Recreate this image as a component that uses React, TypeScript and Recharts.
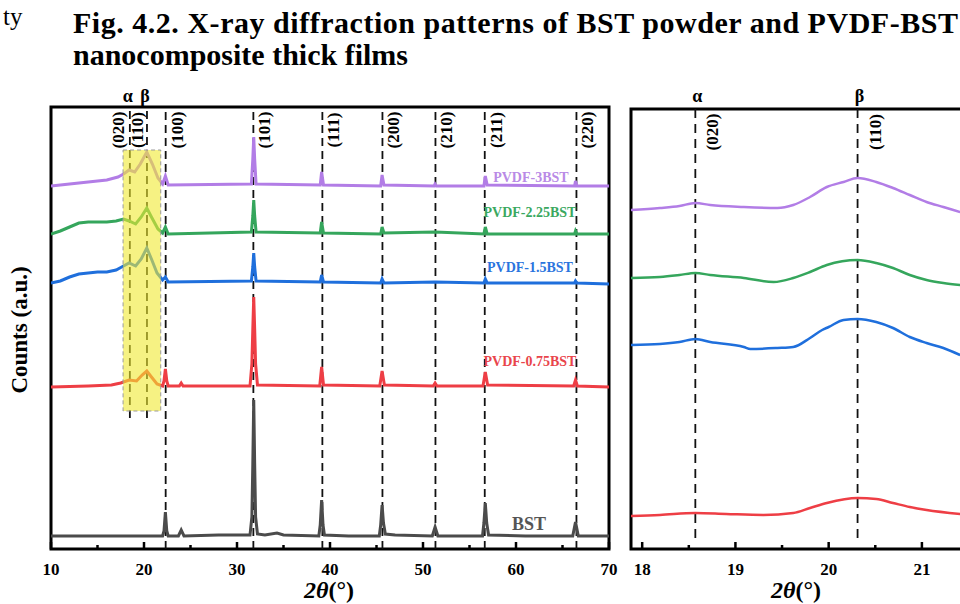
import React from 'react';
import {
  LineChart, Line, XAxis, YAxis, ReferenceLine, ReferenceArea, ReferenceDot,
} from 'recharts';

type Pt = [number, number];

const FONT = '"Liberation Serif", "Times New Roman", serif';

// full scan, 2θ 10–70 deg, counts in a.u. (stacked offsets as plotted)
const bst: Pt[] = [
  [10, 13], [14, 13], [18, 13], [21, 13], [22.0, 13], [22.15, 18], [22.3, 37], [22.45, 18], [22.6, 13],
  [23.7, 13], [24.0, 19], [24.3, 13], [28, 14], [31.4, 14], [31.6, 32], [31.7, 85], [31.8, 149],
  [31.9, 85], [32.0, 32], [32.2, 15], [33, 14], [34.3, 16], [35, 14], [38.8, 13], [38.95, 24],
  [39.1, 49], [39.25, 24], [39.4, 14], [42, 13], [45.3, 13], [45.45, 24], [45.6, 44], [45.75, 26],
  [45.95, 15], [47, 14], [51.0, 13], [51.3, 22], [51.6, 13], [56.4, 13], [56.55, 26], [56.7, 46],
  [56.85, 26], [57.05, 14], [61, 13], [66.1, 13], [66.4, 27], [66.7, 13], [70, 13],
];
const pvdf075: Pt[] = [
  [10, 162], [14, 163], [16.5, 164], [17.5, 166], [18.4, 169], [19.2, 168], [19.8, 174], [20.3, 178],
  [20.8, 172], [21.4, 165], [22.0, 163], [22.15, 168], [22.3, 180], [22.45, 168], [22.6, 163],
  [23.8, 163], [24.0, 166], [24.2, 163], [31.4, 163], [31.6, 185], [31.7, 220], [31.8, 252],
  [31.9, 220], [32.0, 185], [32.2, 164], [38.9, 163], [39.1, 182], [39.3, 164], [45.35, 163],
  [45.6, 178], [45.85, 164], [51.1, 163], [51.3, 166], [51.5, 163], [56.45, 163], [56.7, 177],
  [56.95, 164], [66.2, 163], [66.4, 169], [66.6, 163], [70, 162],
];
const pvdf15: Pt[] = [
  [10, 266], [11, 268], [12, 272], [13, 275], [14, 276], [15, 277], [16, 277], [17, 279], [17.6, 282],
  [18.4, 286], [19.1, 283], [19.7, 290], [20.3, 301], [20.8, 290], [21.4, 276], [22.0, 269],
  [22.3, 272], [22.6, 267], [31.55, 268], [31.7, 282], [31.8, 296], [31.9, 282], [32.05, 268],
  [38.95, 267], [39.1, 274], [39.3, 267], [45.45, 266], [45.6, 270], [45.8, 266], [51.3, 267],
  [56.55, 266], [56.7, 270], [56.9, 266], [66.3, 266], [66.4, 268], [66.55, 266], [70, 265],
];
const pvdf225: Pt[] = [
  [10, 315], [11, 318], [12, 322], [13, 326], [14, 327], [16, 327], [17, 328], [17.8, 330], [18.4, 328],
  [19.1, 325], [19.7, 332], [20.3, 341], [20.8, 332], [21.5, 320], [22.0, 316], [22.3, 322],
  [22.6, 315], [31.55, 317], [31.7, 333], [31.8, 349], [31.9, 333], [32.05, 317], [38.95, 316],
  [39.1, 327], [39.3, 316], [45.45, 315], [45.6, 322], [45.8, 316], [51.3, 317], [56.55, 315],
  [56.7, 322], [56.9, 315], [66.3, 315], [66.4, 318], [66.55, 315], [70, 315],
];
const pvdf3: Pt[] = [
  [10, 363], [12, 365], [14, 367], [16, 369], [17.2, 372], [17.8, 375], [18.4, 379], [19.0, 377],
  [19.6, 385], [20.3, 397], [20.9, 385], [21.5, 371], [22.0, 365], [22.3, 373], [22.6, 364],
  [31.55, 365], [31.7, 390], [31.8, 412], [31.9, 390], [32.05, 365], [38.95, 364], [39.1, 377],
  [39.3, 364], [45.45, 363], [45.6, 374], [45.8, 364], [51.2, 363], [51.3, 365], [51.45, 363],
  [56.55, 363], [56.7, 373], [56.9, 364], [66.3, 363], [66.4, 368], [66.55, 363], [70, 363],
];

// zoom on the PVDF α/β region
const zoom3: Pt[] = [
  [17.88, 339], [18.19, 341], [18.4, 343], [18.57, 346], [18.73, 344], [19.09, 342], [19.45, 341],
  [19.62, 344], [19.8, 352], [19.98, 362], [20.16, 367], [20.31, 371], [20.51, 367], [20.69, 361],
  [20.87, 354], [21.05, 347], [21.23, 342], [21.41, 337],
];
const zoom225: Pt[] = [
  [17.88, 271], [18.19, 272], [18.4, 274], [18.57, 276], [18.73, 274], [19.09, 271], [19.41, 267],
  [19.62, 271], [19.8, 277], [19.98, 284], [20.31, 289], [20.51, 286], [20.69, 281], [20.87, 274],
  [21.05, 269], [21.23, 266], [21.41, 264],
];
const zoom15: Pt[] = [
  [17.88, 204], [18.19, 205], [18.4, 207], [18.57, 210], [18.73, 207], [19.09, 202], [19.16, 200],
  [19.45, 201], [19.62, 202], [19.8, 211], [19.93, 219], [20.0, 222], [20.16, 229], [20.31, 230],
  [20.51, 227], [20.69, 221], [20.87, 212], [21.05, 206], [21.23, 201], [21.41, 194],
];
const zoom075: Pt[] = [
  [17.88, 33], [18.19, 34], [18.57, 36], [18.9, 35], [19.3, 34], [19.62, 36], [19.8, 41], [19.98, 46],
  [20.31, 51], [20.51, 50], [20.69, 46], [20.87, 42], [21.05, 39], [21.41, 35],
];

const fullTicks = [10, 15, 20, 25, 30, 35, 40, 45, 50, 55, 60, 65, 70];
const fullMajor = [10, 20, 30, 40, 50, 60, 70];
const zoomTicks = [18, 18.5, 19, 19.5, 20, 20.5, 21, 21.5];
const zoomMajor = [18, 19, 20, 21];

const peaks = [18.48, 20.32, 22.33, 31.76, 39.18, 45.64, 51.34, 56.64, 66.5];
const hkl = ['(020)', '(110)', '(100)', '(101)', '(111)', '(200)', '(210)', '(211)', '(220)'];
const zoomPeaks = [18.57, 20.31];
const zoomHkl = ['(020)', '(110)'];
const phases = ['α', 'β'];

const series = [
  { key: 'bst', name: 'BST', pts: bst, color: '#4b4b4b', label: '#555555', lx: 61.4, lv: 19, fs: 18 },
  { key: 'p075', name: 'PVDF-0.75BST', pts: pvdf075, color: '#ee3e45', label: '#e9454b', lx: 61.5, lv: 183, fs: 14 },
  { key: 'p15', name: 'PVDF-1.5BST', pts: pvdf15, color: '#1f6fdc', label: '#2a74de', lx: 61.5, lv: 277, fs: 14 },
  { key: 'p225', name: 'PVDF-2.25BST', pts: pvdf225, color: '#35a65c', label: '#3aa860', lx: 61.5, lv: 332, fs: 14 },
  { key: 'p3', name: 'PVDF-3BST', pts: pvdf3, color: '#b27de6', label: '#b98ae6', lx: 61.6, lv: 367, fs: 14 },
];
const zoomSeries = [
  { key: 'z075', pts: zoom075, color: '#ee3e45' },
  { key: 'z15', pts: zoom15, color: '#1f6fdc' },
  { key: 'z225', pts: zoom225, color: '#35a65c' },
  { key: 'z3', pts: zoom3, color: '#b27de6' },
];

const toRows = (pts: Pt[]) => pts.map(([x, v]) => ({ x, v }));

const makeTick = (majors: number[]) => (props: any) => {
  const { x, y, payload } = props;
  const major = majors.includes(payload.value);
  return (
    <g>
      <line x1={x} x2={x} y1={y} y2={y - (major ? 7 : 4)} stroke="#000" strokeWidth={2.5} />
      {major && (
        <text x={x} y={y + 26} textAnchor="middle" fontFamily={FONT} fontWeight="bold" fontSize={17} fill="#000">
          {payload.value}
        </text>
      )}
    </g>
  );
};

const center = (p: any) => ({
  cx: p.viewBox.x + (p.viewBox.width || 0) / 2,
  cy: p.viewBox.y + (p.viewBox.height || 0) / 2,
});

const vertLabel = (text: string, dx: number) => (p: any) => {
  const { cx, cy } = center(p);
  const bx = cx + dx + 6;
  return (
    <text transform={`rotate(-90 ${bx} ${cy})`} x={bx} y={cy} textAnchor="middle"
      fontFamily={FONT} fontWeight="bold" fontSize={17} fill="#000">{text}</text>
  );
};

const plainLabel = (text: string, color: string, size: number, dx = 0) => (p: any) => {
  const { cx, cy } = center(p);
  return (
    <text x={cx + dx} y={cy} textAnchor="middle" fontFamily={FONT} fontWeight="bold" fontSize={size} fill={color}>
      {text}
    </text>
  );
};

const hklDx = [-12, -10, 11, 11, 11, 11, 11, 11, 11];

function FullPattern() {
  return (
    <LineChart width={625} height={604} margin={{ top: 107, right: 16, bottom: 25, left: 51 }}>
      <XAxis type="number" dataKey="x" domain={[10, 70]} allowDataOverflow ticks={fullTicks} interval={0}
        axisLine={false} tickLine={false} tickSize={0} tickMargin={0} height={30} tick={makeTick(fullMajor)} />
      <YAxis type="number" dataKey="v" domain={[0, 442]} allowDataOverflow hide />
      {peaks.map((p, i) => (
        <ReferenceLine key={`l${i}`} segment={[{ x: p, y: i < 2 ? 131 : 0 }, { x: p, y: 442 }]}
          stroke="#111" strokeWidth={1.8} strokeDasharray="8 5" />
      ))}
      {series.map((s) => (
        <Line key={s.key} data={toRows(s.pts)} dataKey="v" type="linear" stroke={s.color} strokeWidth={3}
          dot={false} activeDot={false} isAnimationActive={false} />
      ))}
      <ReferenceArea x1={17.75} x2={21.8} y1={138} y2={399} fill="#f0ea30" fillOpacity={0.6}
        stroke="#9a9a9a" strokeDasharray="4 3" strokeWidth={1} zIndex={600} />
      {series.map((s) => (
        <ReferenceDot key={`n${s.key}`} x={s.lx} y={s.lv} r={0} ifOverflow="visible"
          label={plainLabel(s.name, s.label, s.fs)} />
      ))}
      {peaks.map((p, i) => (
        <ReferenceDot key={`h${i}`} x={p} y={419} r={0} ifOverflow="visible" label={vertLabel(hkl[i], hklDx[i])} />
      ))}
      {phases.map((t, i) => (
        <ReferenceDot key={`ph${i}`} x={peaks[i]} y={447} r={0} ifOverflow="visible"
          label={plainLabel(t, '#000', 18, -2)} />
      ))}
      <ReferenceArea x1={10} x2={70} y1={0} y2={442} fill="none" stroke="#000" strokeWidth={3} ifOverflow="visible" />
    </LineChart>
  );
}

function ZoomPattern() {
  return (
    <LineChart width={380} height={604} margin={{ top: 109, right: 18, bottom: 25, left: 31 }}>
      <XAxis type="number" dataKey="x" domain={[17.88, 21.43]} allowDataOverflow ticks={zoomTicks} interval={0}
        axisLine={false} tickLine={false} tickSize={0} tickMargin={0} height={30} tick={makeTick(zoomMajor)} />
      <YAxis type="number" dataKey="v" domain={[0, 440]} allowDataOverflow hide />
      {zoomPeaks.map((p, i) => (
        <ReferenceLine key={`zl${i}`} segment={[{ x: p, y: 11 }, { x: p, y: 440 }]}
          stroke="#111" strokeWidth={1.8} strokeDasharray="9 6" />
      ))}
      {zoomSeries.map((s) => (
        <Line key={s.key} data={toRows(s.pts)} dataKey="v" type="monotone" stroke={s.color} strokeWidth={2.5}
          dot={false} activeDot={false} isAnimationActive={false} />
      ))}
      {zoomPeaks.map((p, i) => (
        <ReferenceDot key={`zh${i}`} x={p} y={417} r={0} ifOverflow="visible" label={vertLabel(zoomHkl[i], 17)} />
      ))}
      {phases.map((t, i) => (
        <ReferenceDot key={`zp${i}`} x={zoomPeaks[i]} y={447} r={0} ifOverflow="visible"
          label={plainLabel(t, '#000', 18, 2)} />
      ))}
      <ReferenceArea x1={17.88} x2={21.43} y1={0} y2={440} fill="none" stroke="#000" strokeWidth={3} ifOverflow="visible" />
    </LineChart>
  );
}

function AxisTitle({ x }: { x: number }) {
  return (
    <text x={x} y={598} textAnchor="middle" fontFamily={FONT} fontWeight="bold" fontSize={24} fill="#000">
      <tspan fontStyle="italic">2θ</tspan>
      <tspan>(°)</tspan>
    </text>
  );
}

export default function App() {
  return (
    <div style={{ position: 'absolute', left: 0, top: 0, width: 960, height: 604, overflow: 'hidden', background: '#fff' }}>
      <div style={{ position: 'absolute', left: 0, top: 0 }}>
        <FullPattern />
      </div>
      <div style={{ position: 'absolute', left: 600, top: 0 }}>
        <ZoomPattern />
      </div>
      <svg width={960} height={604} style={{ position: 'absolute', left: 0, top: 0, pointerEvents: 'none' }}>
        <text x={3} y={25} fontFamily={FONT} fontSize={25} fill="#000">ty</text>
        <text x={73} y={33} fontFamily={FONT} fontWeight="bold" fontSize={30} fill="#000"
          textLength={885} lengthAdjust="spacing">
          Fig. 4.2. X-ray diffraction patterns of BST powder and PVDF-BST
        </text>
        <text x={73} y={65} fontFamily={FONT} fontWeight="bold" fontSize={30} fill="#000">
          nanocomposite thick films
        </text>
        <text transform="rotate(-90 27 330)" x={27} y={330} textAnchor="middle" fontFamily={FONT}
          fontWeight="bold" fontSize={23} fill="#000">Counts (a.u.)</text>
        <AxisTitle x={329} />
        <AxisTitle x={796} />
      </svg>
    </div>
  );
}
